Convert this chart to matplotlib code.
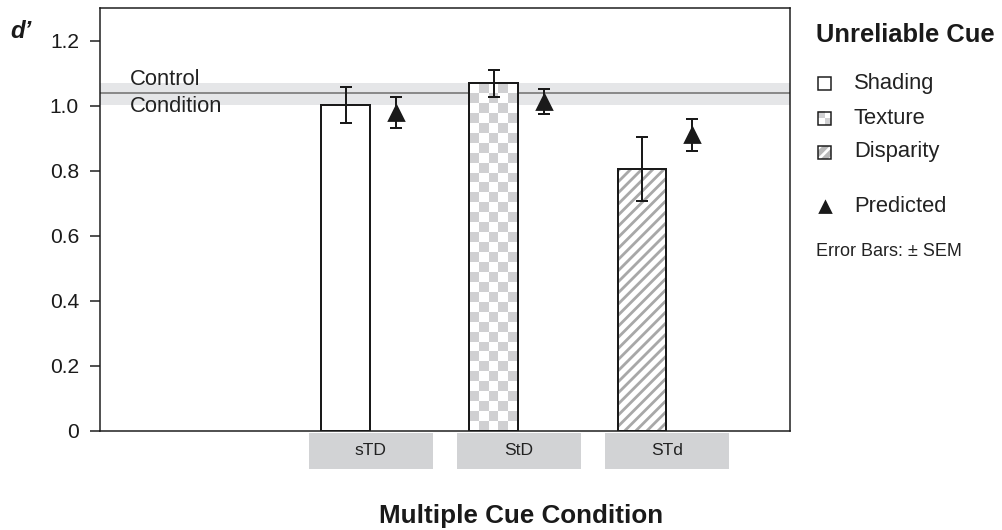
"""
多线索条件下的 d' 对比图 (观测值柱状图 + 预测值三角形)。
"""

import matplotlib

matplotlib.use("Agg")
import matplotlib.pyplot as plt
import matplotlib.transforms as mtransforms
import numpy as np
from matplotlib.patches import Rectangle

# ---- 数据 ----
conditions = ["sTD", "StD", "STd"]
observed = [1.002, 1.068, 0.806]
observed_sem = [0.054, 0.040, 0.099]
predicted = [0.978, 1.012, 0.910]
predicted_sem = [0.048, 0.039, 0.048]
control_value = 1.039
control_band = [1.002, 1.071]
cue_names = ["Shading", "Texture", "Disparity"]
y_ticks = [0, 0.2, 0.4, 0.6, 0.8, 1.0, 1.2]

FONT = "Liberation Sans"
DPI = 200
PX = 72 / DPI  # 1 像素对应的 pt
W, H = 1003, 530

plt.rcParams["font.family"] = [FONT, "DejaVu Sans"]
plt.rcParams["hatch.linewidth"] = 2.8 * PX

GRAY_BOX = "#d2d3d5"
GRAY_BAND = "#e5e6e8"
GRAY_CHECK = "#d0d0d2"
GRAY_HATCH = "#a8a8a8"
INK = "#1a1a1a"


def fx(px):
    return px / W


def fy(py):
    return 1 - py / H


def main():
    fig = plt.figure(figsize=(W / DPI, H / DPI), dpi=DPI)
    ax = fig.add_axes([fx(100), fy(431), fx(690), 423 / H])

    x = np.arange(len(conditions))
    bar_off, bar_w = 0.17, 0.33

    # 对照条件
    ax.axhspan(control_band[0], control_band[1], color=GRAY_BAND, lw=0, zorder=0)
    ax.axhline(control_value, color="#8a8a8a", lw=2 * PX, zorder=1)
    ctl_tr = mtransforms.blended_transform_factory(ax.transAxes, ax.transData)
    ax.text(0.043, 1.079, "Control", transform=ctl_tr, fontsize=22 * PX,
            va="center", ha="left", color="#222222", zorder=5)
    ax.text(0.043, 0.996, "Condition", transform=ctl_tr, fontsize=22 * PX,
            va="center", ha="left", color="#222222", zorder=5)

    bx = x - bar_off
    edge_kw = dict(facecolor="none", edgecolor=INK, linewidth=2 * PX, zorder=4)

    # Shading: 空白柱
    ax.bar(bx[0], observed[0], width=bar_w, color="white", zorder=2)
    ax.bar(bx[0], observed[0], width=bar_w, **edge_kw)

    # Texture: 棋盘格
    edge = ax.bar(bx[1], observed[1], width=bar_w, **edge_kw)[0]
    ny = int(round(observed[1] / 0.0302))
    checker = (np.add.outer(np.arange(ny), np.arange(5)) % 2).astype(float)
    img = ax.imshow(checker, extent=(bx[1] - bar_w / 2, bx[1] + bar_w / 2, 0, observed[1]),
                    cmap=matplotlib.colors.ListedColormap(["white", GRAY_CHECK]),
                    interpolation="nearest", aspect="auto", origin="lower", zorder=2)
    img.set_clip_path(edge)

    # Disparity: 斜线
    ax.bar(bx[2], observed[2], width=bar_w, color="white", edgecolor=GRAY_HATCH,
           hatch="//////", linewidth=0, zorder=2)
    ax.bar(bx[2], observed[2], width=bar_w, **edge_kw)

    ax.errorbar(bx, observed, yerr=observed_sem, fmt="none", ecolor=INK,
                elinewidth=2 * PX, capsize=6 * PX, capthick=2 * PX, zorder=6)
    ax.errorbar(x + bar_off, predicted, yerr=predicted_sem, fmt="^", color=INK,
                markersize=14 * PX, elinewidth=2 * PX, capsize=6 * PX, capthick=2 * PX, zorder=6)

    # 类别标签灰色块
    box_tr = mtransforms.blended_transform_factory(ax.transData, ax.transAxes)
    for xi, name in zip(x, conditions):
        ax.add_patch(Rectangle((xi - 0.42, -0.091), 0.84, 0.087, transform=box_tr,
                               facecolor=GRAY_BOX, edgecolor="none", clip_on=False))
        ax.text(xi, -0.047, name, transform=box_tr, ha="center", va="center",
                fontsize=17.5 * PX, color="#222222")

    ax.set_xlim(-1.83, 2.83)
    ax.set_ylim(0, 1.3)
    ax.set_xticks([])
    ax.set_yticks(y_ticks)
    ax.set_yticklabels(["0"] + [f"{v:.1f}" for v in y_ticks[1:]])
    ax.tick_params(axis="y", length=10 * PX, width=1.5 * PX, labelsize=21 * PX,
                   pad=11 * PX, colors=INK)
    for sp in ax.spines.values():
        sp.set_linewidth(1.5 * PX)
        sp.set_color(INK)

    fig.text(fx(21), fy(32), "d\u2019", fontsize=24 * PX, fontweight="bold", fontstyle="italic",
             ha="center", va="center", color=INK)
    fig.text(fx(521), fy(516), "Multiple Cue Condition", fontsize=26 * PX, fontweight="bold",
             ha="center", va="center", color=INK)

    # ---- 图例 ----
    fig.text(fx(816), fy(35), "Unreliable Cue", fontsize=25.5 * PX, fontweight="bold",
             ha="left", va="center", color=INK)
    sq = 13
    item_y = [83, 118, 152]
    for name, py in zip(cue_names, item_y):
        fig.text(fx(854), fy(py), name, fontsize=22 * PX, ha="left", va="center", color="#222222")
    x0, y0 = fx(825 - sq / 2), fy(83 + sq / 2)
    fig.add_artist(Rectangle((x0, y0), fx(sq), sq / H, facecolor="white",
                             edgecolor=INK, lw=1.5 * PX))
    x0, y0 = fx(825 - sq / 2), fy(118 + sq / 2)
    fig.add_artist(Rectangle((x0, y0), fx(sq), sq / H, facecolor="white", edgecolor="none"))
    fig.add_artist(Rectangle((x0 + fx(sq / 2), y0), fx(sq / 2), sq / H / 2,
                             facecolor=GRAY_CHECK, edgecolor="none"))
    fig.add_artist(Rectangle((x0, y0 + sq / H / 2), fx(sq / 2), sq / H / 2,
                             facecolor=GRAY_CHECK, edgecolor="none"))
    fig.add_artist(Rectangle((x0, y0), fx(sq), sq / H, facecolor="none",
                             edgecolor=INK, lw=1.5 * PX))
    x0, y0 = fx(825 - sq / 2), fy(152 + sq / 2)
    fig.add_artist(Rectangle((x0, y0), fx(sq), sq / H, facecolor="#b8b8b8",
                             edgecolor="white", hatch="//////", lw=0))
    fig.add_artist(Rectangle((x0, y0), fx(sq), sq / H, facecolor="none",
                             edgecolor=INK, lw=1.5 * PX))

    fig.add_artist(plt.Line2D([fx(825)], [fy(207)], marker="^", color=INK,
                              markersize=10 * PX, linestyle="none"))
    fig.text(fx(854), fy(207), "Predicted", fontsize=22 * PX, ha="left", va="center", color="#222222")
    fig.text(fx(816), fy(252), "Error Bars: \u00b1 SEM", fontsize=18 * PX, ha="left", va="center",
             color="#222222")

    fig.savefig("out.png", dpi=DPI)
    plt.close(fig)


if __name__ == "__main__":
    main()
